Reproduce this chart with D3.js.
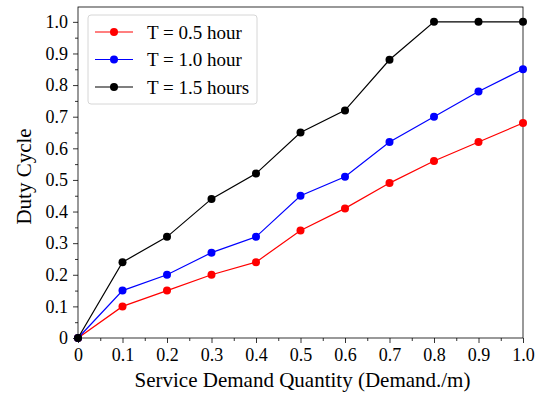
<!DOCTYPE html>
<html>
  <head>
    <meta charset="utf-8">
    <title>Duty Cycle</title>
    <script src="https://d3js.org/d3.v7.min.js"></script>
    <style>
      body { margin: 0; background: #fff; }
      svg text { font-family: "Liberation Serif", "Times New Roman", serif !important; }
      .tick text { font-size: 18px !important; fill: #000; }
    </style>
  </head>
  <body>
    <svg width="544" height="396"></svg>

    <script>
      // data
      const demand = [0, 0.1, 0.2, 0.3, 0.4, 0.5, 0.6, 0.7, 0.8, 0.9, 1.0];
      const t05 = [0, 0.10, 0.15, 0.20, 0.24, 0.34, 0.41, 0.49, 0.56, 0.62, 0.68];
      const t10 = [0, 0.15, 0.20, 0.27, 0.32, 0.45, 0.51, 0.62, 0.70, 0.78, 0.85];
      const t15 = [0, 0.24, 0.32, 0.44, 0.52, 0.65, 0.72, 0.88, 1.0, 1.0, 1.0];
      const seriesNames = ["T = 0.5 hour", "T = 1.0 hour", "T = 1.5 hours"];
      const seriesColors = ["#ff0000", "#0000ff", "#000000"];
      const xTicks = [0, 0.1, 0.2, 0.3, 0.4, 0.5, 0.6, 0.7, 0.8, 0.9, 1.0];
      const yTicks = [0, 0.1, 0.2, 0.3, 0.4, 0.5, 0.6, 0.7, 0.8, 0.9, 1.0];

      const series = [t05, t10, t15].map((vals, i) => ({
        name: seriesNames[i],
        color: seriesColors[i],
        points: vals.map((v, j) => [demand[j], v])
      }));

      const margin = {top: 7, right: 21, bottom: 58, left: 78};
      const svg = d3.select("svg");
      const width = 544 - margin.left - margin.right;
      const height = 396 - margin.top - margin.bottom;
      const g = svg.append("g").attr("transform", `translate(${margin.left},${margin.top})`);

      const x = d3.scaleLinear().domain([0, 1]).range([0, width]);
      const y = d3.scaleLinear().domain([0, 1.047]).range([height, 0]);

      const fmt = d => d === 0 ? "0" : d3.format(".1f")(d);

      // minor ticks every 0.05
      const minor = d3.range(0.05, 1.0, 0.1);
      g.append("g").attr("transform", `translate(0,${height})`)
        .call(d3.axisBottom(x).tickValues(minor).tickSize(3).tickFormat(""));
      g.append("g")
        .call(d3.axisLeft(y).tickValues(minor).tickSize(3).tickFormat(""));

      g.append("g").attr("transform", `translate(0,${height})`)
        .call(d3.axisBottom(x).tickValues(xTicks).tickSize(5).tickPadding(5).tickFormat(fmt));

      g.append("g")
        .call(d3.axisLeft(y).tickValues(yTicks).tickSize(5).tickPadding(5).tickFormat(fmt));

      g.selectAll(".domain").remove();
      g.selectAll(".tick line").attr("stroke", "#000").attr("stroke-width", 0.8);

      // frame
      g.append("rect").attr("width", width).attr("height", height)
        .attr("fill", "none").attr("stroke", "#000").attr("stroke-width", 0.8);

      const line = d3.line().x(d => x(d[0])).y(d => y(d[1]));

      const sg = g.selectAll(".series").data(series).enter().append("g");
      sg.append("path")
        .attr("d", d => line(d.points))
        .attr("fill", "none")
        .attr("stroke", d => d.color)
        .attr("stroke-width", 1.2);
      sg.selectAll("circle").data(d => d.points.map(p => ({p, c: d.color}))).enter()
        .append("circle")
        .attr("cx", d => x(d.p[0]))
        .attr("cy", d => y(d.p[1]))
        .attr("r", 4)
        .attr("fill", d => d.c);

      // legend
      const lg = g.append("g").attr("transform", "translate(10,8)");
      lg.append("rect").attr("width", 169).attr("height", 89).attr("rx", 3)
        .attr("fill", "#fff").attr("stroke", "#d6d6d6").attr("stroke-width", 1);
      const items = lg.selectAll(".item").data(series).enter().append("g")
        .attr("transform", (d, i) => `translate(0,${17 + i * 27.5})`);
      items.append("line").attr("x1", 7).attr("x2", 45)
        .attr("stroke", d => d.color).attr("stroke-width", 1.2);
      items.append("circle").attr("cx", 26).attr("r", 4).attr("fill", d => d.color);
      items.append("text").attr("x", 59).attr("dy", "0.35em")
        .attr("font-size", 19).text(d => d.name);

      // axis labels
      svg.append("text")
        .attr("x", margin.left + width / 2 + 2).attr("y", 387)
        .attr("text-anchor", "middle").attr("font-size", 21)
        .text("Service Demand Quantity (Demand./m)");
      svg.append("text")
        .attr("transform", `translate(31,${margin.top + height / 2 + 4}) rotate(-90)`)
        .attr("text-anchor", "middle").attr("font-size", 21)
        .text("Duty Cycle");
    </script>
  </body>
</html>
